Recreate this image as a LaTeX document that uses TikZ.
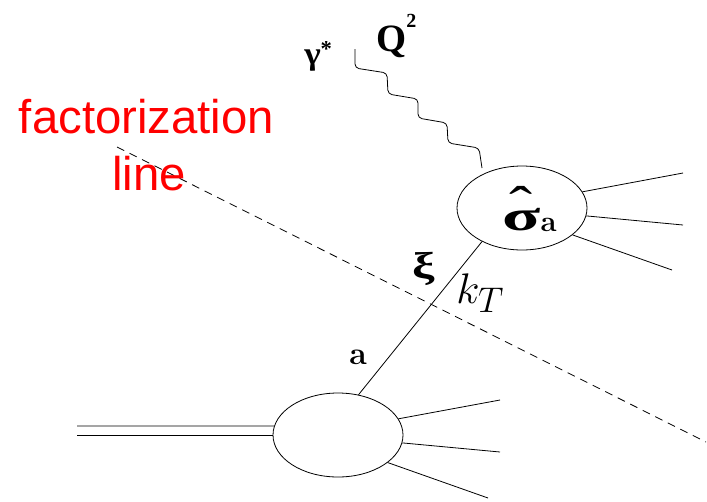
\documentclass[tikz,border=0pt]{standalone}
\usepackage{fontspec}
\newfontfamily\arialf{Liberation Sans}
\newfontfamily\timesf{Liberation Serif}
\usetikzlibrary{shapes.geometric}
\begin{document}
\begin{tikzpicture}[x=0.75pt,y=-0.75pt]
\tikzset{
  blob/.style={draw, shape=ellipse, minimum width=97.5pt, minimum height=63pt, inner sep=0pt, line width=0.6pt},
  thinline/.style={line width=0.6pt},
  factline/.style={line width=0.6pt, dash pattern=on 6pt off 4.5pt},
  lbl/.style={anchor=base west, inner sep=0pt},
  redlbl/.style={anchor=base, inner sep=0pt, text=red, font=\arialf\fontsize{35.5}{35.5}\selectfont}}
\useasboundingbox (0,0) rectangle (707,501);
% factorization line
\coordinate (f0) at (117,147);
\coordinate (f1) at (706,442);
\draw[factline] (f0) -- (f1);
\node[redlbl] (fac) at (146.5,133) {factorization};
\node[redlbl] (lin) at (149,190) {line};
% blobs
\node[blob] (U) at (522,208) {};
\node[blob] (L) at (338,435) {};
\node[lbl] (sig) at (502,230) {\timesf\bfseries\fontsize{32}{32}\selectfont\ooalign{\scalebox{1.65}[1]{σ}\cr\hidewidth\raisebox{5pt}{\mdseries\fontsize{40}{40}\selectfont\scalebox{1.3}[1]{ˆ}}\hidewidth\cr}\raisebox{-1pt}{\rmfamily\fontsize{22}{22}\selectfont a}};
% parton line
\draw[thinline] (U.220) -- (L.63);
% outgoing lines upper
\coordinate (u1) at (683,173);
\coordinate (u2) at (683,225);
\coordinate (u3) at (672,270);
\draw[thinline] (U.15.5) -- (u1);
\draw[thinline] (U.-7) -- (u2);
\draw[thinline] (U.-28.7) -- (u3);
% outgoing lines lower
\coordinate (l1) at (500,400);
\coordinate (l2) at (500,452);
\coordinate (l3) at (488,498);
\draw[thinline] (L.15.5) -- (l1);
\draw[thinline] (L.-7) -- (l2);
\draw[thinline] (L.-29) -- (l3);
% incoming hadron (double line)
\coordinate (h1) at (77,426);
\coordinate (h2) at (77,435);
\draw[thinline] (h1) -- (L.172);
\draw[thinline] (h2) -- (L.180);
% photon
\coordinate (g0) at (355,49);
\coordinate (g1) at (482,168);
\draw[thinline, rounded corners=3pt] (g0) -- (355,68) -- (387,73) -- (388,94) -- (418,99) -- (418,118) -- (447,123) -- (448,143) -- (479,148) -- (g1);
% labels
\node[lbl] (gam) at (304,64) {\timesf\bfseries\fontsize{24}{24}\selectfont\scalebox{1.1}[1]{γ}\raisebox{6pt}{\fontsize{17}{17}\selectfont *}};
\node[lbl] (Q) at (376,51) {\timesf\bfseries\fontsize{29}{29}\selectfont Q\raisebox{18pt}{\fontsize{15}{15}\selectfont 2}};
\node[lbl] (xi) at (412,278) {\timesf\bfseries\fontsize{28}{28}\selectfont\scalebox{1.35}[1]{ξ}};
\node[lbl] (kt) at (456,303) {\scalebox{1.29}{\Huge$k_T$}};
\node[lbl] (a) at (349,364) {\bfseries\fontsize{24}{24}\selectfont a};
\end{tikzpicture}
\end{document}
